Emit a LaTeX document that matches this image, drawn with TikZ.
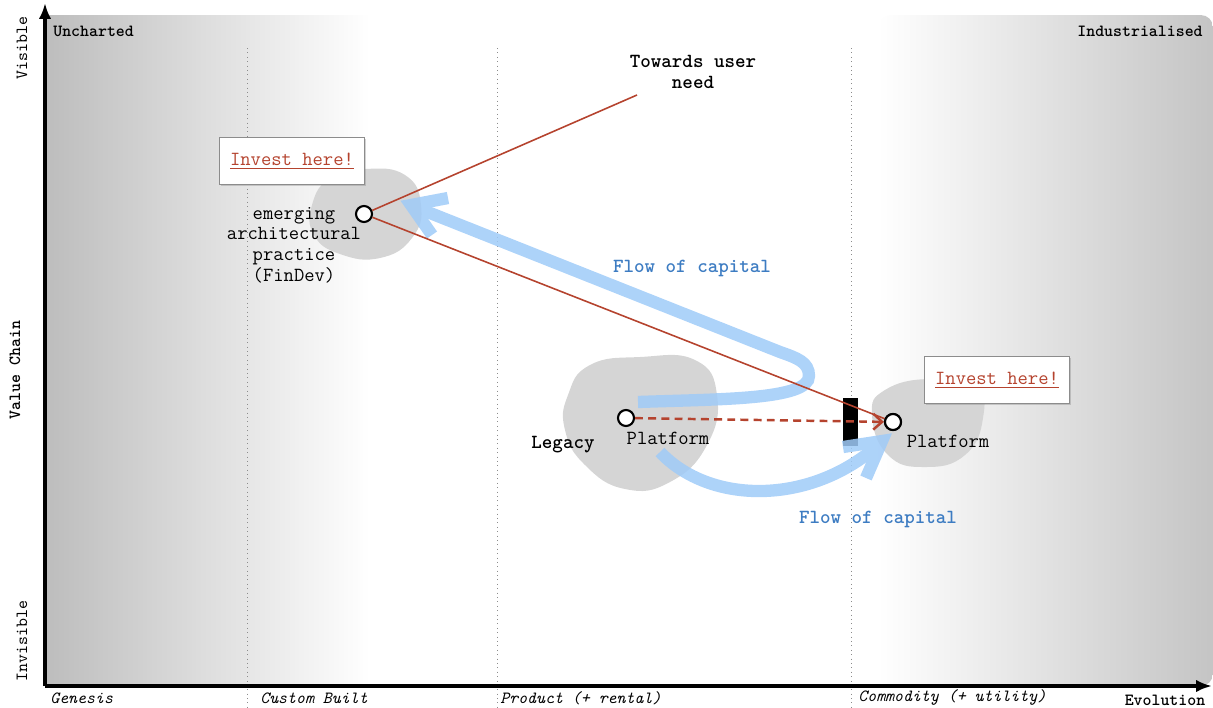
\documentclass[tikz,border=0pt]{standalone}
\usetikzlibrary{shadows,arrows.meta}
\definecolor{redc}{HTML}{B5432E}
\definecolor{bluetxt}{HTML}{3D7CC2}
\definecolor{flowc}{HTML}{9FCBF8}
\definecolor{blobc}{HTML}{D5D5D5}
\tikzset{
  comp/.style={circle,draw=black,line width=1.2pt,fill=white,minimum size=0.32cm,inner sep=0pt},
  lbl/.style={font=\ttfamily\fontsize{11.4}{11.7}\selectfont,text=black,inner sep=0pt},
  blbl/.style={font=\ttfamily\bfseries\fontsize{11.4}{11.7}\selectfont,text=black,inner sep=0pt},
  small/.style={font=\ttfamily\fontsize{9.7}{10}\selectfont,inner sep=0pt},
  sbold/.style={font=\ttfamily\bfseries\fontsize{9.7}{10}\selectfont,inner sep=0pt},
  sital/.style={font=\ttfamily\itshape\fontsize{9.7}{10}\selectfont,inner sep=0pt,anchor=west},
  investbox/.style={draw=black!45,line width=0.5pt,fill=white,minimum width=2.9cm,minimum height=0.95cm,
     font=\ttfamily\fontsize{11.4}{11.7}\selectfont,text=redc,
     drop shadow={opacity=0.35,shadow xshift=0.6pt,shadow yshift=-0.8pt}},
  redline/.style={draw=redc,line width=0.9pt},
  flow/.style={draw=flowc,line width=7pt},
  blob/.style={fill=blobc,draw=none},
  divider/.style={draw=black!45,dotted,line width=0.5pt},
  axis/.style={draw=black,line width=1.8pt,-{Latex[length=9pt,width=7pt]}},
  flowtxt/.style={font=\ttfamily\bfseries\fontsize{11.4}{11.7}\selectfont,text=bluetxt,inner sep=0pt}
}
\begin{document}
\begin{tikzpicture}[x=0.02cm,y=-0.02cm]
\useasboundingbox (0,0) rectangle (1213,707);
% background shadings
\shade[left color=black!26,right color=white] (45,15) rectangle (370,686);
\shade[left color=white,right color=black!23,rounded corners=7pt] (878,15) rectangle (1213,686);
% dividers
\draw[divider] (247,48) -- (247,707);
\draw[divider] (497,48) -- (497,707);
\draw[divider] (851,48) -- (851,707);
% axes
\coordinate (origin) at (45,686);
\coordinate (ytop) at (45,3);
\coordinate (xend) at (1212,686);
\draw[axis] (origin) -- (ytop);
\draw[axis] (origin) -- (xend);
% axis labels
\node[small,rotate=90] (vis) at (22,48) {Visible};
\node[small,rotate=90] (invis) at (22,641) {Invisible};
\node[sbold,rotate=90] (vc) at (15,370) {Value Chain};
\node[sbold,anchor=west] (unch) at (53,31) {Uncharted};
\node[sbold,anchor=east] (indus) at (1203,31) {Industrialised};
\node[sital] (gen) at (50,698) {Genesis};
\node[sital] (cust) at (260,698) {Custom Built};
\node[sital] (prod) at (500,698) {Product (+ rental)};
\node[sital] (comm) at (858,698) {Commodity (+ utility)};
\node[sbold] (evo) at (1165,700) {Evolution};
% blobs
\fill[blob] plot[smooth cycle,tension=0.8] coordinates {(312,205) (330,178) (365,169) (405,175) (421,205) (412,238) (380,258) (340,254) (314,235)};
\fill[blob] plot[smooth cycle,tension=0.8] coordinates {(568,395) (590,365) (640,357) (695,360) (717,395) (707,445) (670,482) (625,489) (585,465) (565,430)};
\fill[blob] plot[smooth cycle,tension=0.8] coordinates {(872,415) (885,390) (930,379) (975,388) (983,418) (965,455) (925,467) (888,455)};
% inertia bar
\node[fill=black,minimum width=0.3cm,minimum height=0.96cm,inner sep=0pt] (inertia) at (850,422) {};
% flows of capital
\begin{scope}[transparency group,opacity=0.85]
\draw[flow,line cap=butt] (638,402) .. controls (720,399) and (809,400) .. (809,376) .. controls (809,362) and (797,358) .. (780,352) -- (420,209);
\draw[flow,line join=miter] (448,198) -- (411,205) -- (432,235);
\draw[flow] (660,452) .. controls (710,505) and (810,505) .. (877,446);
\draw[flow,line join=miter] (843,447) -- (882,441) -- (866,478);
\end{scope}
% components
\node[comp] (em) at (364,214) {};
\node[comp] (pl) at (626,418) {};
\node[comp] (pr) at (893,422) {};
\coordinate (tw) at (637,95);
% red lines
\draw[redline] (em) -- (tw);
\draw[redline] (em) -- (pr);
\draw[redc,line width=1.4pt,dash pattern=on 4.5pt off 3pt,-{Straight Barb[length=5pt,width=9pt]}] (pl) -- (pr);
\node[comp] at (pr) {};
% labels
\node[lbl,align=center] (emlbl) at (294,245) {emerging\\architectural\\practice\\(FinDev)};
\node[blbl,align=center] (twlbl) at (693,72) {Towards user\\need};
\node[blbl] (legacy) at (563,445) {Legacy};
\node[lbl] (pllbl) at (668,438) {Platform};
\node[lbl] (prlbl) at (948,441) {Platform};
\node[investbox] (inv1) at (292,161) {\underline{Invest here!}};
\node[investbox] (inv2) at (997,380) {\underline{Invest here!}};
\node[flowtxt] (f1) at (692,268) {Flow of capital};
\node[flowtxt] (f2) at (878,519) {Flow of capital};
\end{tikzpicture}
\end{document}
